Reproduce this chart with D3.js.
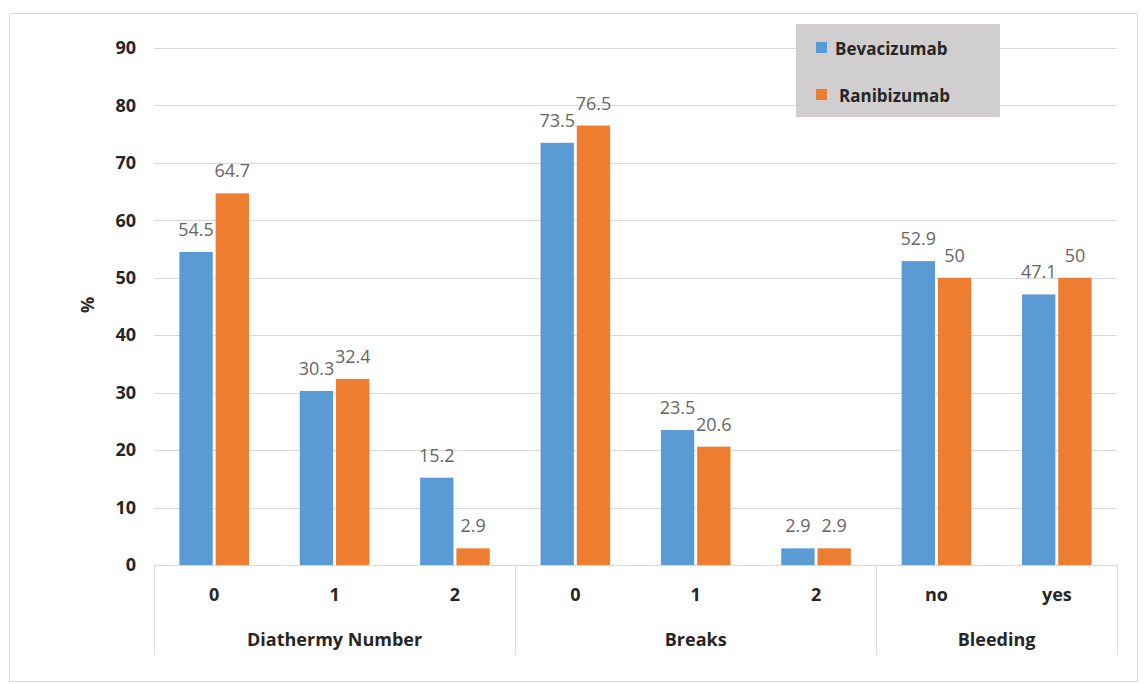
<!DOCTYPE html>
<html>
<head>
<meta charset="utf-8">
<script src="https://cdn.jsdelivr.net/npm/d3@7"></script>
<style>
  body { margin: 0; background: #fff; }
  text { font-family: "Open Sans", Lato, sans-serif; }
</style>
</head>
<body>
<div class="chart"></div>
<script>
// sizes
var widthSVG = 1147;
var heightSVG = 684;

// data
var groups = ["Diathermy Number", "Breaks", "Bleeding"];
var categories = ["0", "1", "2", "0", "1", "2", "no", "yes"];
var groupOf = [0, 0, 0, 1, 1, 1, 2, 2];
var bevacizumab = [54.5, 30.3, 15.2, 73.5, 23.5, 2.9, 52.9, 47.1];
var ranibizumab = [64.7, 32.4, 2.9, 76.5, 20.6, 2.9, 50, 50];
var seriesNames = ["Bevacizumab", "Ranibizumab"];
var cor = ["#5B9BD5", "#ED7D31"];
var yTicks = [0, 10, 20, 30, 40, 50, 60, 70, 80, 90];

var plotLeft = 154, plotRight = 1117, plotTop = 48, plotBottom = 565;

var svg = d3.select(".chart").append("svg")
  .attr("width", widthSVG)
  .attr("height", heightSVG);

// outer chart border
svg.append("rect")
  .attr("x", 9.5).attr("y", 13.5)
  .attr("width", 1128).attr("height", 668)
  .attr("fill", "none")
  .attr("stroke", "#d9d9d9");

// scales
var xScale = d3.scaleBand()
  .domain(d3.range(categories.length))
  .range([plotLeft, plotRight]);

var xInner = d3.scaleBand()
  .domain([0, 1])
  .range([0, xScale.bandwidth()])
  .paddingInner(0.08)
  .paddingOuter(0.7);

var yScale = d3.scaleLinear()
  .domain([0, 90])
  .range([plotBottom, plotTop]);

// gridlines
svg.append("g")
  .selectAll("line")
  .data(yTicks.slice(1))
  .enter().append("line")
  .attr("x1", plotLeft).attr("x2", plotRight)
  .attr("y1", function(d) { return Math.round(yScale(d)) + 0.5; })
  .attr("y2", function(d) { return Math.round(yScale(d)) + 0.5; })
  .attr("stroke", "#d9d9d9")
  .attr("stroke-width", 1);

// y axis
var y_axis = d3.axisLeft(yScale).tickValues(yTicks).tickSize(0).tickPadding(0);
var gy = svg.append("g")
  .attr("transform", "translate(136,0)")
  .call(y_axis);
gy.select(".domain").remove();
gy.selectAll("text")
  .style("font-family", "'Open Sans', sans-serif")
  .style("font-size", "18px")
  .style("font-weight", "bold")
  .attr("fill", "#262626");

svg.append("text")
  .attr("text-anchor", "middle")
  .attr("transform", "translate(94,305) rotate(-90)")
  .style("font-size", "18px")
  .style("font-weight", "bold")
  .attr("fill", "#262626")
  .text("%");

// bars
var series = [bevacizumab, ranibizumab];
series.forEach(function(vals, s) {
  svg.append("g")
    .selectAll("rect")
    .data(vals)
    .enter().append("rect")
    .attr("x", function(d, i) { return xScale(i) + xInner(s); })
    .attr("y", function(d) { return yScale(d); })
    .attr("width", xInner.bandwidth())
    .attr("height", function(d) { return yScale(0) - yScale(d); })
    .attr("fill", cor[s]);

  // value labels
  svg.append("g")
    .selectAll("text")
    .data(vals)
    .enter().append("text")
    .attr("x", function(d, i) { return xScale(i) + xInner(s) + xInner.bandwidth() / 2; })
    .attr("y", function(d) { return yScale(d) - 16; })
    .attr("text-anchor", "middle")
    .style("font-size", "18px")
    .attr("fill", "#666666")
    .text(function(d) { return d; });
});

// x axis line
svg.append("line")
  .attr("x1", plotLeft).attr("x2", plotRight)
  .attr("y1", plotBottom + 0.5).attr("y2", plotBottom + 0.5)
  .attr("stroke", "#d9d9d9");

// category labels
svg.append("g")
  .selectAll("text")
  .data(categories)
  .enter().append("text")
  .attr("x", function(d, i) { return xScale(i) + xScale.bandwidth() / 2; })
  .attr("y", 601)
  .attr("text-anchor", "middle")
  .style("font-size", "18px")
  .style("font-weight", "bold")
  .attr("fill", "#262626")
  .text(function(d) { return d; });

// group separators and labels
var groupStart = groups.map(function(g, k) { return groupOf.indexOf(k); });
var groupEnd = groups.map(function(g, k) { return groupOf.lastIndexOf(k); });
var edges = groupStart.map(function(i) { return xScale(i); }).concat([plotRight]);

svg.append("g")
  .selectAll("line")
  .data(edges)
  .enter().append("line")
  .attr("x1", function(d) { return Math.round(d) + 0.5; })
  .attr("x2", function(d) { return Math.round(d) + 0.5; })
  .attr("y1", plotBottom).attr("y2", 655)
  .attr("stroke", "#d9d9d9");

svg.append("g")
  .selectAll("text")
  .data(groups)
  .enter().append("text")
  .attr("x", function(d, k) { return (xScale(groupStart[k]) + xScale(groupEnd[k]) + xScale.bandwidth()) / 2; })
  .attr("y", 646)
  .attr("text-anchor", "middle")
  .style("font-size", "18px")
  .style("font-weight", "bold")
  .attr("fill", "#262626")
  .text(function(d) { return d; });

// legend
var legenda = svg.append("g").attr("transform", "translate(796,24)");
legenda.append("rect")
  .attr("width", 204).attr("height", 93)
  .attr("fill", "#d0cece");
var itens = legenda.selectAll(".legendas")
  .data(seriesNames)
  .enter().append("g")
  .classed("legendas", true)
  .attr("transform", function(d, i) { return "translate(20," + (24 + i * 47) + ")"; });
itens.append("rect")
  .attr("y", -6)
  .attr("width", 11).attr("height", 11)
  .attr("fill", function(d, i) { return cor[i]; });
itens.append("text")
  .attr("x", function(d, i) { return i === 0 ? 19 : 23; })
  .attr("y", 7)
  .style("font-size", "17px")
  .style("font-weight", "bold")
  .attr("fill", "#262626")
  .text(function(d) { return d; });
</script>
</body>
</html>
